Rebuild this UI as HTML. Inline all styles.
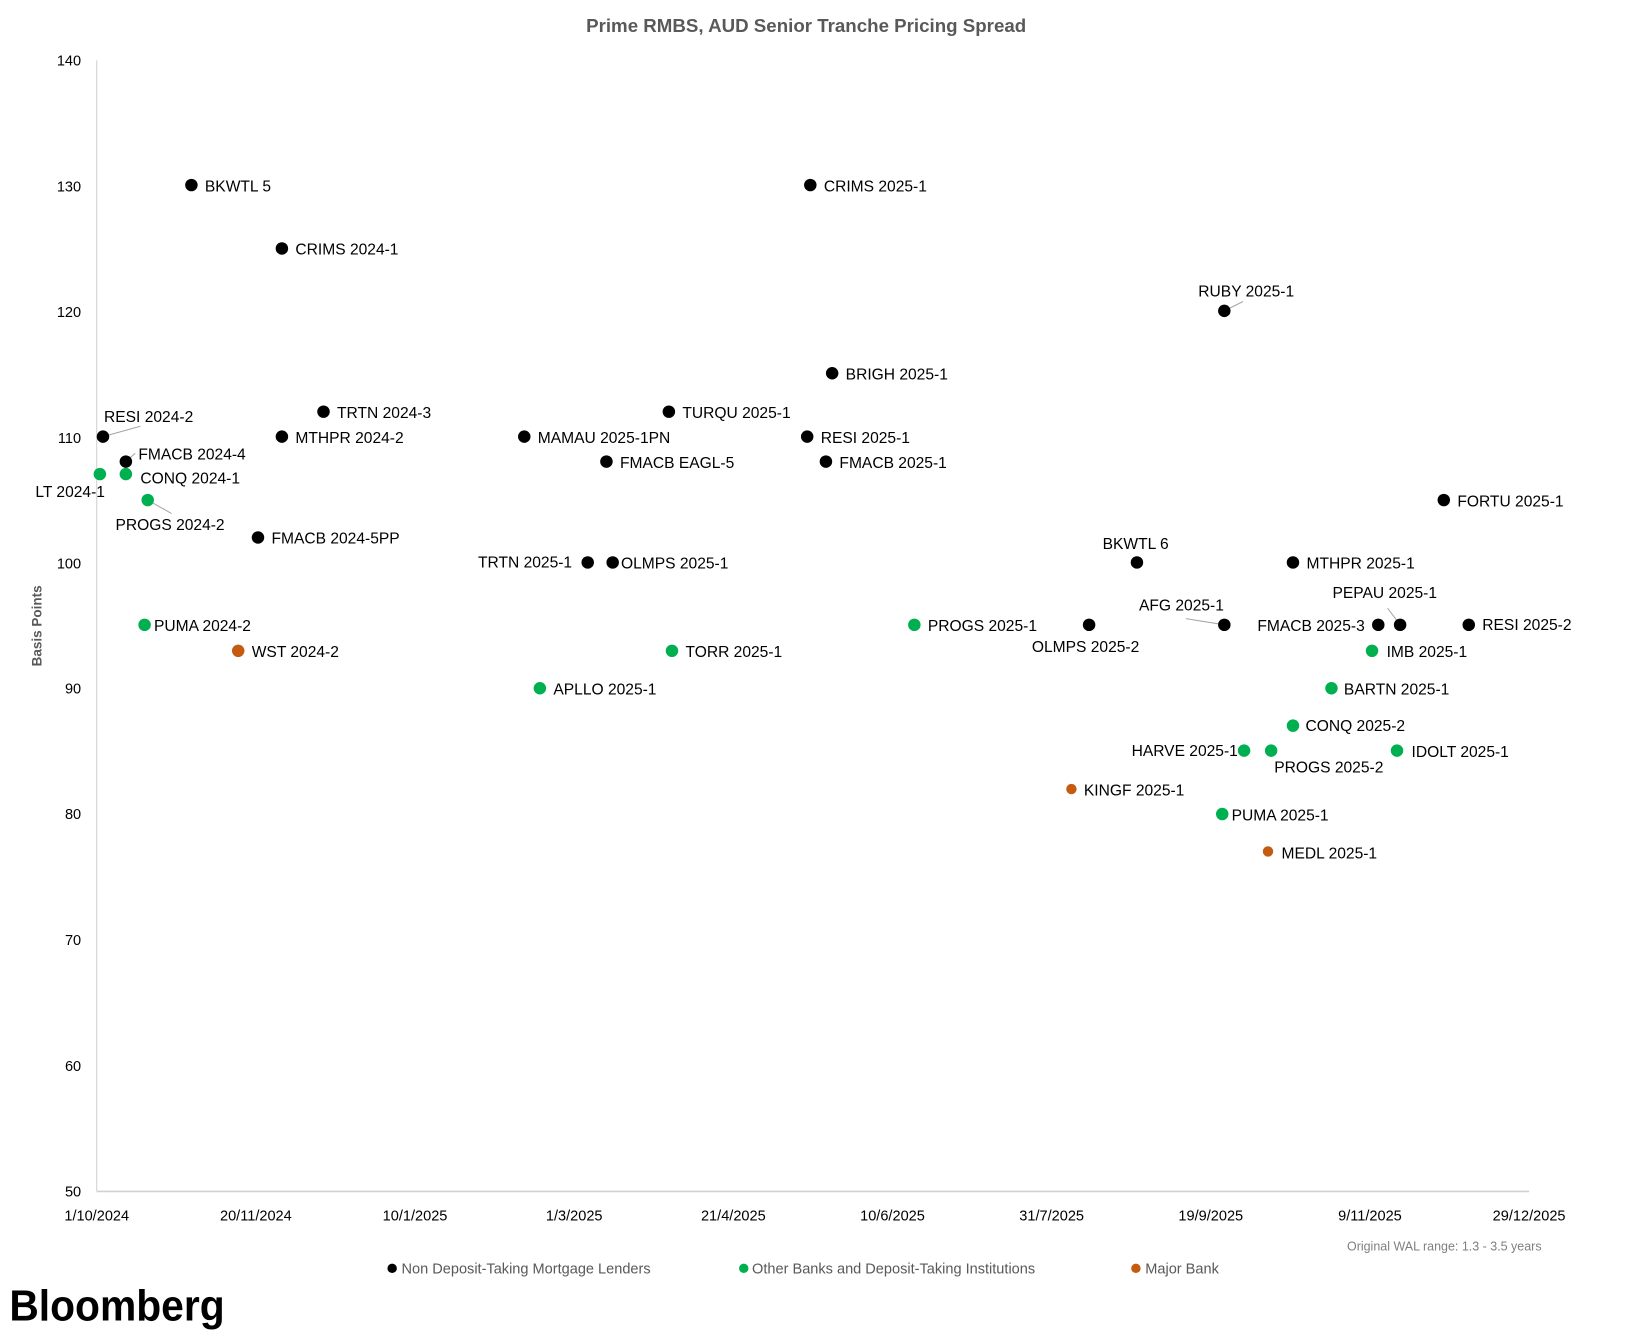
<!DOCTYPE html>
<html><head><meta charset="utf-8"><style>
html,body{margin:0;padding:0;background:#fff;}
svg{display:block;}
text{font-family:"Liberation Sans",sans-serif;}
</style></head><body>
<svg width="1630" height="1338" viewBox="0 0 1567 1287" preserveAspectRatio="none" xmlns="http://www.w3.org/2000/svg">
<rect width="1567" height="1287" fill="#fff"/>
<text x="775" y="31" text-anchor="middle" font-size="18" font-weight="bold" fill="#595959">Prime RMBS, AUD Senior Tranche Pricing Spread</text>
<line x1="93" y1="58" x2="93" y2="1146" stroke="#d0d0d0" stroke-width="1"/>
<line x1="93" y1="1146" x2="1470" y2="1146" stroke="#d0d0d0" stroke-width="1.5"/>
<g font-size="14" fill="#000" text-anchor="end">
<text x="78" y="63">140</text><text x="78" y="184">130</text><text x="78" y="305">120</text><text x="78" y="426">110</text><text x="78" y="547">100</text><text x="78" y="667">90</text><text x="78" y="788">80</text><text x="78" y="909">70</text><text x="78" y="1030">60</text><text x="78" y="1151">50</text>
</g>
<text transform="translate(40,602) rotate(-90)" text-anchor="middle" font-size="13" font-weight="bold" fill="#595959">Basis Points</text>
<g font-size="14" fill="#000" text-anchor="middle">
<text x="93" y="1174">1/10/2024</text><text x="246" y="1174">20/11/2024</text><text x="399" y="1174">10/1/2025</text><text x="552" y="1174">1/3/2025</text><text x="705" y="1174">21/4/2025</text><text x="858" y="1174">10/6/2025</text><text x="1011" y="1174">31/7/2025</text><text x="1164" y="1174">19/9/2025</text><text x="1317" y="1174">9/11/2025</text><text x="1470" y="1174">29/12/2025</text>
</g>
<g stroke="#a6a6a6" stroke-width="1">
<line x1="99" y1="420" x2="135" y2="410"/>
<line x1="121" y1="444" x2="130" y2="436"/>
<line x1="142" y1="481" x2="165" y2="494"/>
<line x1="1177" y1="299" x2="1195" y2="290"/>
<line x1="1177" y1="601" x2="1140" y2="595"/>
<line x1="1346" y1="601" x2="1334" y2="585"/>
<line x1="1047" y1="601" x2="1045" y2="607"/>
</g>
<g fill="#000">
<circle cx="184" cy="178" r="6"/><circle cx="271" cy="239" r="6"/><circle cx="311" cy="396" r="6"/><circle cx="271" cy="420" r="6"/><circle cx="99" cy="420" r="6"/><circle cx="121" cy="444" r="6"/><circle cx="248" cy="517" r="6"/><circle cx="504" cy="420" r="6"/><circle cx="583" cy="444" r="6"/><circle cx="643" cy="396" r="6"/><circle cx="565" cy="541" r="6"/><circle cx="589" cy="541" r="6"/><circle cx="779" cy="178" r="6"/><circle cx="800" cy="359" r="6"/><circle cx="776" cy="420" r="6"/><circle cx="794" cy="444" r="6"/><circle cx="1177" cy="299" r="6"/><circle cx="1093" cy="541" r="6"/><circle cx="1047" cy="601" r="6"/><circle cx="1177" cy="601" r="6"/><circle cx="1325" cy="601" r="6"/><circle cx="1346" cy="601" r="6"/><circle cx="1243" cy="541" r="6"/><circle cx="1388" cy="481" r="6"/><circle cx="1412" cy="601" r="6"/>
</g>
<g fill="#00b050">
<circle cx="96" cy="456" r="6"/><circle cx="121" cy="456" r="6"/><circle cx="142" cy="481" r="6"/><circle cx="139" cy="601" r="6"/><circle cx="519" cy="662" r="6"/><circle cx="646" cy="626" r="6"/><circle cx="879" cy="601" r="6"/><circle cx="1196" cy="722" r="6"/><circle cx="1222" cy="722" r="6"/><circle cx="1175" cy="783" r="6"/><circle cx="1243" cy="698" r="6"/><circle cx="1280" cy="662" r="6"/><circle cx="1319" cy="626" r="6"/><circle cx="1343" cy="722" r="6"/>
</g>
<g fill="#c55a11">
<circle cx="229" cy="626" r="6"/><circle cx="1030" cy="759" r="5"/><circle cx="1219" cy="819" r="5"/>
</g>
<g font-size="15" fill="#000">
<text x="197" y="184">BKWTL 5</text>
<text x="284" y="245">CRIMS 2024-1</text>
<text x="324" y="402">TRTN 2024-3</text>
<text x="284" y="426">MTHPR 2024-2</text>
<text x="100" y="406">RESI 2024-2</text>
<text x="133" y="442">FMACB 2024-4</text>
<text x="261" y="523">FMACB 2024-5PP</text>
<text x="517" y="426">MAMAU 2025-1PN</text>
<text x="596" y="450">FMACB EAGL-5</text>
<text x="656" y="402">TURQU 2025-1</text>
<text x="550" y="546" text-anchor="end">TRTN 2025-1</text>
<text x="597" y="547">OLMPS 2025-1</text>
<text x="792" y="184">CRIMS 2025-1</text>
<text x="813" y="365">BRIGH 2025-1</text>
<text x="789" y="426">RESI 2025-1</text>
<text x="807" y="450">FMACB 2025-1</text>
<text x="1152" y="285">RUBY 2025-1</text>
<text x="1060" y="528">BKWTL 6</text>
<text x="992" y="627">OLMPS 2025-2</text>
<text x="1095" y="587">AFG 2025-1</text>
<text x="1312" y="607" text-anchor="end">FMACB 2025-3</text>
<text x="1281" y="575">PEPAU 2025-1</text>
<text x="1256" y="547">MTHPR 2025-1</text>
<text x="1401" y="487">FORTU 2025-1</text>
<text x="1425" y="606">RESI 2025-2</text>
<text x="34" y="478">LT 2024-1</text>
<text x="135" y="465">CONQ 2024-1</text>
<text x="111" y="510">PROGS 2024-2</text>
<text x="148" y="607">PUMA 2024-2</text>
<text x="532" y="668">APLLO 2025-1</text>
<text x="659" y="632">TORR 2025-1</text>
<text x="892" y="607">PROGS 2025-1</text>
<text x="1190" y="727" text-anchor="end">HARVE 2025-1</text>
<text x="1225" y="743">PROGS 2025-2</text>
<text x="1184" y="789">PUMA 2025-1</text>
<text x="1255" y="703">CONQ 2025-2</text>
<text x="1292" y="668">BARTN 2025-1</text>
<text x="1333" y="632">IMB 2025-1</text>
<text x="1357" y="728">IDOLT 2025-1</text>
<text x="242" y="632">WST 2024-2</text>
<text x="1042" y="765">KINGF 2025-1</text>
<text x="1232" y="826">MEDL 2025-1</text>
</g>
<text x="1482" y="1203" text-anchor="end" font-size="12" fill="#7f7f7f">Original WAL range: 1.3 - 3.5 years</text>
<g font-size="14" fill="#595959">
<circle cx="377" cy="1220" r="4.5" fill="#000"/><text x="386" y="1225">Non Deposit-Taking Mortgage Lenders</text>
<circle cx="715" cy="1220" r="4.5" fill="#00b050"/><text x="723" y="1225">Other Banks and Deposit-Taking Institutions</text>
<circle cx="1092" cy="1220" r="4.5" fill="#c55a11"/><text x="1101" y="1225">Major Bank</text>
</g>
<text x="9" y="1270" font-size="42" font-weight="bold" fill="#000" textLength="207" lengthAdjust="spacingAndGlyphs">Bloomberg</text>
</svg>
</body></html>
